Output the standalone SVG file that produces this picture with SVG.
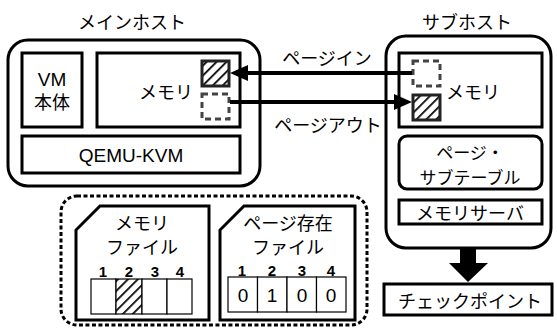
<svg xmlns="http://www.w3.org/2000/svg" width="557" height="334" viewBox="0 0 557 334">
<defs>
<style>
text{font-family:"Noto Sans CJK JP","Liberation Sans",sans-serif;font-size:18px;fill:#000;text-anchor:middle;dominant-baseline:central}
.lat{font-family:"Liberation Sans",sans-serif;font-size:19px}
.box{fill:#fff;stroke:#000;stroke-width:3}
.thin{fill:#fff;stroke:#000;stroke-width:1.2}
.dash{fill:none;stroke:#444;stroke-width:3;stroke-dasharray:6 4}
.hatch{fill:url(#hp);stroke:#222;stroke-width:3}
.num{font-family:"Liberation Sans",sans-serif;font-weight:bold;font-size:15px}
.conn{stroke:#000;stroke-width:4;fill:none}
.sm{font-size:17px}
</style>
<pattern id="hp" width="7" height="7" patternUnits="userSpaceOnUse" patternTransform="rotate(45)">
<rect width="7" height="7" fill="#fff"/>
<line x1="0" y1="0" x2="0" y2="7" stroke="#000" stroke-width="3.5"/>
</pattern>
</defs>
<rect width="557" height="334" fill="#fff"/>

<g id="main-host">
<text x="132" y="21">メインホスト</text>
<rect class="box" x="8" y="40" width="252" height="146" rx="20"/>
</g>
<g id="vm">
<rect class="box" x="22" y="53" width="60" height="74"/>
<text class="lat" x="52" y="79">VM</text>
<text x="52" y="101">本体</text>
</g>
<g id="main-memory">
<rect class="box" x="97" y="53" width="143" height="74"/>
<text x="166" y="91">メモリ</text>
<rect class="hatch" x="202" y="61" width="27" height="25"/>
<rect class="dash" x="202" y="94" width="27" height="25"/>
</g>
<g id="qemu">
<rect class="box" x="22" y="136" width="218" height="37"/>
<text class="lat" x="131" y="155">QEMU-KVM</text>
</g>

<g id="sub-host">
<text x="467" y="21">サブホスト</text>
<rect class="box" x="386" y="36" width="165" height="212" rx="20"/>
</g>
<g id="sub-memory">
<rect class="box" x="399" y="53" width="143" height="74"/>
<text x="473" y="91">メモリ</text>
<rect class="dash" x="413" y="61" width="27" height="25"/>
<rect class="hatch" x="413" y="95" width="27" height="25"/>
</g>
<g id="page-subtable">
<rect class="box" x="399" y="136" width="143" height="53" rx="8"/>
<text class="sm" x="470" y="151">ページ・</text>
<text class="sm" x="470" y="176">サブテーブル</text>
</g>
<g id="memory-server">
<rect class="box" x="399" y="200" width="143" height="24"/>
<text x="470" y="212">メモリサーバ</text>
</g>
<g id="checkpoint">
<rect class="box" x="384" y="284" width="168" height="31"/>
<text x="470" y="300">チェックポイント</text>
</g>

<g id="storage">
<rect x="61" y="196" width="306" height="129" rx="16" fill="none" stroke="#000" stroke-width="3" stroke-dasharray="4 2.5"/>
</g>
<g id="memory-file">
<path class="box" d="M100,206 H209 V320 H76 V230 Z"/>
<text x="142" y="222">メモリ</text>
<text x="142" y="246">ファイル</text>
<text class="num" x="103" y="271">1</text>
<text class="num" x="129" y="271">2</text>
<text class="num" x="155" y="271">3</text>
<text class="num" x="180" y="271">4</text>
<rect class="thin" x="91" y="279" width="25" height="35"/>
<rect x="116" y="279" width="26" height="35" fill="url(#hp)" stroke="#000" stroke-width="1.2"/>
<rect class="thin" x="142" y="279" width="25" height="35"/>
<rect class="thin" x="167" y="279" width="25" height="35"/>
</g>
<g id="page-exist-file">
<path class="box" d="M244,206 H355 V320 H220 V230 Z"/>
<text x="288" y="222">ページ存在</text>
<text x="288" y="246">ファイル</text>
<text class="num" x="242" y="270">1</text>
<text class="num" x="272" y="270">2</text>
<text class="num" x="302" y="270">3</text>
<text class="num" x="331" y="270">4</text>
<rect class="thin" x="228" y="277" width="29.5" height="35"/>
<rect class="thin" x="257.5" y="277" width="29.5" height="35"/>
<rect class="thin" x="287" y="277" width="29.5" height="35"/>
<rect class="thin" x="316.5" y="277" width="29.5" height="35"/>
<text class="lat" x="243" y="295">0</text>
<text class="lat" x="272" y="295">1</text>
<text class="lat" x="302" y="295">0</text>
<text class="lat" x="331" y="295">0</text>
</g>

<g id="connectors">
<line class="conn" x1="412" y1="73" x2="246" y2="73"/>
<path d="M230,73 L248,65 L248,81 Z" fill="#000"/>
<line class="conn" x1="230" y1="102" x2="396" y2="102"/>
<path d="M412,102 L394,94 L394,110 Z" fill="#000"/>
<text x="327" y="57">ページイン</text>
<text x="328" y="124">ページアウト</text>
<path d="M460,249 H476 V263 H488 L468,282 L449,263 H460 Z" fill="#000"/>
</g>
</svg>
